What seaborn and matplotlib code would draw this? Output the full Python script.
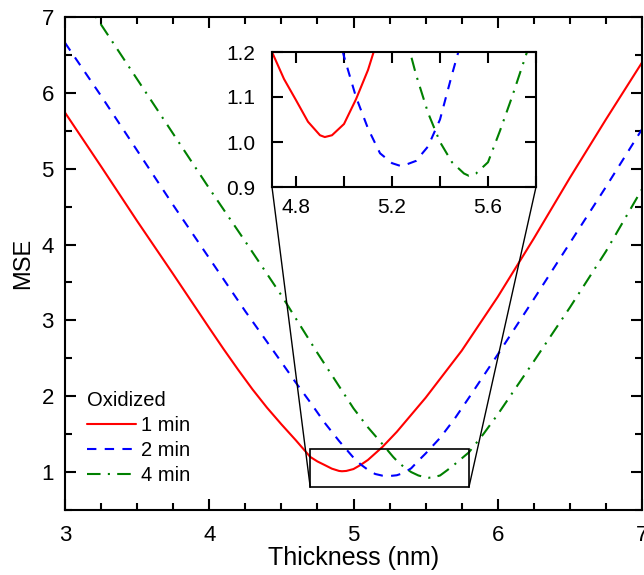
import matplotlib
matplotlib.use("Agg")
import matplotlib.pyplot as plt
import seaborn as sns
import pandas as pd
from matplotlib.ticker import MultipleLocator, FormatStrFormatter
from matplotlib.lines import Line2D
from matplotlib.patches import Rectangle

# ---------------- data ----------------
x_1min = [3.0, 3.25, 3.5, 3.75, 4.0, 4.1, 4.2, 4.3, 4.4, 4.5, 4.6, 4.7, 4.75, 4.8, 4.85, 4.9, 4.92,
          4.95, 5.0, 5.05, 5.1, 5.15, 5.2, 5.3, 5.5, 5.75, 6.0, 6.25, 6.5, 6.75, 7.0]
y_1min = [5.74, 5.03, 4.31, 3.61, 2.90, 2.62, 2.35, 2.09, 1.85, 1.63, 1.42, 1.20, 1.14, 1.093, 1.045,
          1.015, 1.011, 1.015, 1.04, 1.095, 1.16, 1.245, 1.33, 1.53, 1.98, 2.60, 3.31, 4.08, 4.88,
          5.65, 6.40]

x_2min = [3.0, 3.25, 3.5, 3.75, 4.0, 4.25, 4.5, 4.6, 4.7, 4.8, 4.9, 5.0, 5.05, 5.1, 5.15,
          5.2, 5.24, 5.3, 5.35, 5.4, 5.45, 5.5, 5.6, 5.7, 5.8, 6.0, 6.25, 6.5, 6.75, 7.0]
y_2min = [6.66, 5.96, 5.24, 4.52, 3.82, 3.12, 2.45, 2.18, 1.92, 1.65, 1.41, 1.19, 1.10, 1.03, 0.975,
          0.953, 0.946, 0.958, 0.99, 1.05, 1.15, 1.245, 1.45, 1.70, 1.98, 2.55, 3.28, 4.02, 4.76, 5.52]

x_4min = [3.0, 3.25, 3.5, 3.75, 4.0, 4.25, 4.5, 4.75, 5.0, 5.1, 5.2, 5.275, 5.3, 5.35, 5.4,
          5.45, 5.5, 5.52, 5.55, 5.6, 5.65, 5.7, 5.75, 5.8, 5.9, 6.0, 6.25, 6.5, 6.75, 7.0]
y_4min = [7.60, 6.90, 6.18, 5.46, 4.74, 4.04, 3.33, 2.57, 1.84, 1.59, 1.37, 1.20, 1.15, 1.065, 1.00,
          0.955, 0.93, 0.925, 0.93, 0.955, 1.025, 1.10, 1.18, 1.26, 1.50, 1.76, 2.46, 3.17, 3.91, 4.73]

series_labels = ["1 min", "2 min", "4 min"]
legend_title = "Oxidized"
x_label = "Thickness (nm)"
y_label = "MSE"

# ---------------- styling ----------------
sns.set_style("ticks")
plt.rcParams["font.family"] = ["Liberation Sans", "DejaVu Sans"]
plt.rcParams.update({
    "axes.linewidth": 1.5,
    "text.color": "black",
    "axes.labelcolor": "black",
    "axes.edgecolor": "black",
    "xtick.color": "black",
    "ytick.color": "black",
})

colors = ["#ff0000", "#0000ff", "#008000"]
lw = 1.5
dashes = [None, (4.5, 4.0), (6.5, 3.5, 1.0, 3.5)]

frames = [pd.DataFrame({"x": xs, "y": ys}) for xs, ys in
          [(x_1min, y_1min), (x_2min, y_2min), (x_4min, y_4min)]]

fig = plt.figure(figsize=(6.44, 5.75), dpi=100)
ax = fig.add_axes([65 / 644, 1 - 510 / 575, 577 / 644, 493 / 575])


def draw(axis):
    for df, c, d in zip(frames, colors, dashes):
        sns.lineplot(data=df, x="x", y="y", ax=axis, color=c, linewidth=lw,
                     sort=False, estimator=None, legend=False)
        ln = axis.get_lines()[-1]
        if d is not None:
            ln.set_dashes(d)


draw(ax)
ax.set_xlim(3, 7)
ax.set_ylim(0.5, 7)
ax.xaxis.set_major_locator(MultipleLocator(1))
ax.xaxis.set_minor_locator(MultipleLocator(0.25))
ax.yaxis.set_major_locator(MultipleLocator(1))
ax.yaxis.set_minor_locator(MultipleLocator(0.5))
ax.tick_params(which="both", direction="in", top=True, right=True, width=1.5)
ax.tick_params(which="major", length=8, labelsize=16)
ax.tick_params(axis="x", which="major", pad=11)
ax.tick_params(axis="y", which="major", pad=8)
ax.tick_params(which="minor", length=5)
ax.set_xlabel(x_label, fontsize=18, labelpad=0)
ax.set_ylabel(y_label, fontsize=17, labelpad=5)
for s in ax.spines.values():
    s.set_linewidth(1.5)

# zoom rectangle on main axes
rx0, rx1, ry0, ry1 = 4.7, 5.8, 0.8, 1.3
ax.add_patch(Rectangle((rx0, ry0), rx1 - rx0, ry1 - ry0, fill=False,
                       edgecolor="black", linewidth=1.2, zorder=5))

# legend
handles = [Line2D([0], [0], color=c, lw=lw) for c in colors]
for h, d in zip(handles, dashes):
    if d is not None:
        h.set_dashes(d)
leg = ax.legend(handles, series_labels, title=legend_title, loc="lower left",
                bbox_to_anchor=(0.025, 0.035), frameon=False, fontsize=14.5,
                title_fontsize=14.5, handlelength=2.4, handletextpad=0.25,
                labelspacing=0.3, borderaxespad=0.0)
leg._legend_box.align = "left"

# inset
ins = fig.add_axes([272 / 644, 1 - 187 / 575, 264 / 644, 135 / 575])
draw(ins)
ins.set_xlim(4.7, 5.8)
ins.set_ylim(0.9, 1.2)
ins.set_xticks([4.8, 5.2, 5.6])
ins.xaxis.set_minor_locator(MultipleLocator(0.2))
ins.yaxis.set_major_locator(MultipleLocator(0.1))
ins.yaxis.set_major_formatter(FormatStrFormatter("%.1f"))
ins.tick_params(which="both", direction="in", top=True, right=True, width=1.5,
                length=8, labelsize=15)
ins.tick_params(axis="y", pad=12)
ins.tick_params(axis="x", pad=8)
ins.set_xlabel("")
ins.set_ylabel("")
for s in ins.spines.values():
    s.set_linewidth(1.5)

# connector lines from rectangle bottom corners to inset bottom corners
trans = ax.transData
inv = fig.transFigure.inverted()
for xd, xf in [(rx0, 272 / 644), (rx1, 536 / 644)]:
    p = inv.transform(trans.transform((xd, ry0)))
    fig.add_artist(Line2D([p[0], xf], [p[1], 1 - 187 / 575], color="black",
                          linewidth=1.0, transform=fig.transFigure, zorder=1))

fig.savefig("out.png", dpi=100)
